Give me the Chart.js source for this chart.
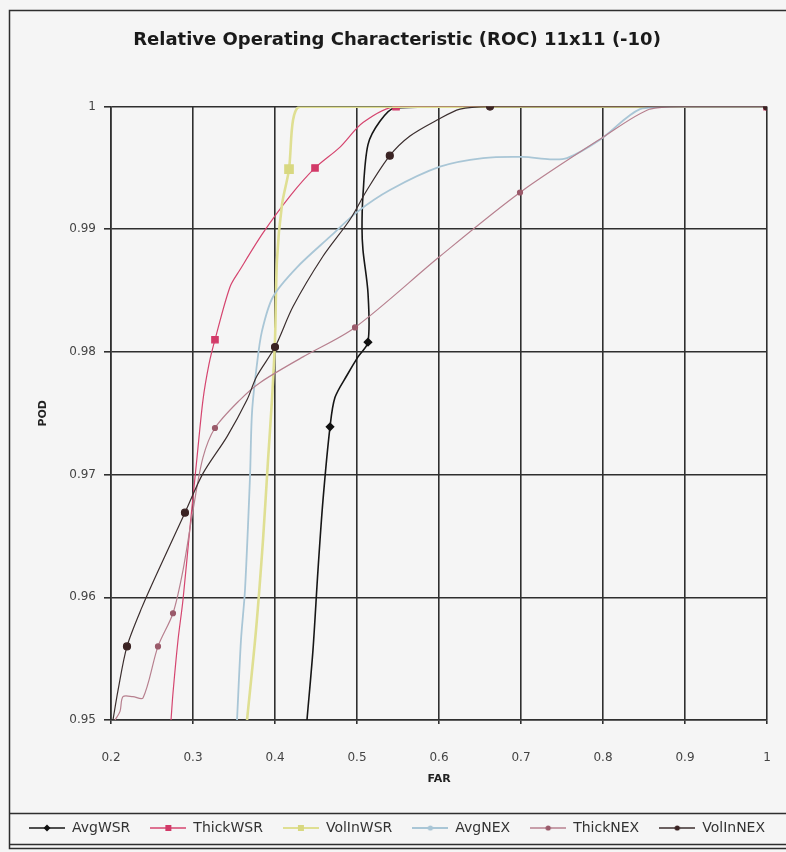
<!DOCTYPE html>
<html><head><meta charset="utf-8">
<script src="https://cdn.jsdelivr.net/npm/chart.js@4/dist/chart.umd.min.js"></script>
<style>html,body{margin:0;padding:0;background:#f5f5f5;}canvas{display:block;}</style>
</head><body>
<canvas id="c" width="786" height="852"></canvas>
<script>
// ---- data (FAR, POD) ----
const seriesNames = ['AvgWSR','ThickWSR','VolInWSR','AvgNEX','ThickNEX','VolInNEX'];
const xTickValues = [0.2,0.3,0.4,0.5,0.6,0.7,0.8,0.9,1];
const yTickValues = [0.95,0.96,0.97,0.98,0.99,1];

const avgWSR = [[0.4390,0.9500],[0.4463,0.9557],[0.4524,0.9622],[0.4585,0.9679],[0.4671,0.9739],[0.4732,0.9763],[0.4878,0.9781],[0.5012,0.9796],[0.5134,0.9808],[0.5134,0.9848],[0.5073,0.9883],[0.5061,0.9901],[0.5073,0.9928],[0.5134,0.9969],[0.5280,0.9988],[0.5463,0.9999],[0.6620,1.0],[1.0,1.0]];
const thickWSR = [[0.2732,0.9500],[0.2756,0.9522],[0.2817,0.9565],[0.2878,0.9598],[0.2963,0.9657],[0.3049,0.9714],[0.3122,0.9761],[0.3195,0.9790],[0.3268,0.9810],[0.3451,0.9853],[0.3573,0.9867],[0.3854,0.9897],[0.4183,0.9927],[0.4488,0.9950],[0.4793,0.9967],[0.5073,0.9987],[0.5476,1.0],[1.0,1.0]];
const volInWSR = [[0.3659,0.9500],[0.3768,0.9573],[0.3854,0.9647],[0.3915,0.9712],[0.3963,0.9761],[0.4000,0.9810],[0.4024,0.9875],[0.4085,0.9920],[0.4171,0.9949],[0.4220,0.9989],[0.4305,1.0],[1.0,1.0]];
const avgNEX = [[0.3537,0.9500],[0.3585,0.9565],[0.3634,0.9606],[0.3695,0.9698],[0.3720,0.9751],[0.3780,0.9790],[0.3841,0.9817],[0.3976,0.9845],[0.4268,0.9869],[0.4671,0.9894],[0.5000,0.9914],[0.5402,0.9932],[0.6012,0.9951],[0.6537,0.9958],[0.7024,0.9959],[0.7354,0.9957],[0.7561,0.9958],[0.7963,0.9973],[0.8451,0.9998],[0.8939,1.0],[1.0,1.0]];
const thickNEX = [[0.2049,0.9500],[0.2110,0.9507],[0.2146,0.9519],[0.2268,0.9519],[0.2390,0.9518],[0.2573,0.9560],[0.2756,0.9587],[0.2878,0.9622],[0.3000,0.9671],[0.3122,0.9714],[0.3268,0.9738],[0.3573,0.9761],[0.3817,0.9775],[0.4341,0.9796],[0.4976,0.9820],[0.6012,0.9878],[0.6988,0.9930],[0.8000,0.9975],[0.8573,0.9998],[0.9000,1.0],[1.0,1.0]];
const volInNEX = [[0.2024,0.9500],[0.2085,0.9524],[0.2195,0.9560],[0.2378,0.9592],[0.2598,0.9625],[0.2902,0.9669],[0.3122,0.9701],[0.3415,0.9731],[0.3659,0.9761],[0.3776,0.9780],[0.4000,0.9804],[0.4220,0.9837],[0.4585,0.9878],[0.4915,0.9908],[0.5122,0.9932],[0.5400,0.9960],[0.5646,0.9976],[0.5976,0.9989],[0.6256,0.9998],[0.6622,1.0],[1.0,1.0]];

const seriesData = [avgWSR, thickWSR, volInWSR, avgNEX, thickNEX, volInNEX];

// ---- styles ----
const styles = [
  {line:'#161616', width:1.6, point:'rectRot', r:3.5, pc:'#111111', marks:[4,8]},
  {line:'#d5456f', width:1.2, point:'rect', r:4.5, pc:'#d23a68', marks:[8,13,16,17]},
  {line:'#dfdf92', width:2.6, point:'rect', r:5, pc:'#d8d880', marks:[8]},
  {line:'#a9c6d6', width:1.8, point:'circle', r:0, pc:'#a9c6d6', marks:[]},
  {line:'#b7808f', width:1.2, point:'circle', r:2.5, pc:'#9a5a6a', marks:[5,6,10,14,16,20]},
  {line:'#3b2e2e', width:1.2, point:'circle', r:3.5, pc:'#3a2323', marks:[2,5,10,15,19,20]}
];

function legendImg(s) {
  const c = document.createElement('canvas');
  c.width = 36; c.height = 12;
  const g = c.getContext('2d');
  g.strokeStyle = s.line; g.lineWidth = Math.max(1.5, Math.min(s.width, 2.2));
  g.beginPath(); g.moveTo(0, 6); g.lineTo(36, 6); g.stroke();
  g.fillStyle = s.pc;
  if (s.point === 'rect') { g.fillRect(15, 3, 6, 6); }
  else if (s.point === 'rectRot') { g.beginPath(); g.moveTo(18,2.5); g.lineTo(21.5,6); g.lineTo(18,9.5); g.lineTo(14.5,6); g.closePath(); g.fill(); }
  else { g.beginPath(); g.arc(18, 6, 2.6, 0, Math.PI*2); g.fill(); }
  return c;
}

const datasets = seriesNames.map((name, i) => {
  const s = styles[i];
  return {
    label: name,
    data: seriesData[i].map(p => ({x: p[0], y: p[1]})),
    showLine: true,
    tension: 0.3,
    borderColor: s.line,
    borderWidth: s.width,
    backgroundColor: s.pc,
    pointBackgroundColor: s.pc,
    pointBorderColor: s.pc,
    pointStyle: s.point,
    pointRadius: ctx => s.marks.includes(ctx.dataIndex) ? s.r : 0,
    pointHoverRadius: 0,
    order: 6 - i
  };
});

const frame = {
  id: 'frame',
  beforeDraw(chart) {
    const ctx = chart.ctx;
    ctx.save();
    ctx.fillStyle = '#f5f5f5';
    ctx.fillRect(0, 0, chart.width, chart.height);
    ctx.restore();
  },
  afterDraw(chart) {
    const ctx = chart.ctx;
    ctx.save();
    ctx.strokeStyle = '#2e2e2e';
    ctx.lineWidth = 1.5;
    ctx.strokeRect(9.5, 10.5, 800, 838);
    ctx.beginPath();
    ctx.moveTo(9, 813.5); ctx.lineTo(786, 813.5);
    ctx.moveTo(9, 844.5); ctx.lineTo(786, 844.5);
    ctx.stroke();
    ctx.restore();
  }
};

const gridColor = '#2f2f2f';
new Chart(document.getElementById('c'), {
  type: 'scatter',
  data: { datasets },
  options: {
    responsive: false,
    devicePixelRatio: 1,
    animation: false,
    events: [],
    layout: { padding: { left: 8, right: 0, top: 0, bottom: 7 } },
    plugins: {
      title: {
        display: true,
        text: 'Relative Operating Characteristic (ROC) 11x11 (-10)',
        font: { family: 'DejaVu Sans', size: 18, weight: 'bold' },
        color: '#1a1a1a',
        padding: { top: 30, bottom: 55 }
      },
      legend: {
        position: 'bottom',
        labels: {
          usePointStyle: true,
          pointStyleWidth: 36,
          padding: 20,
          color: '#333',
          font: { family: 'DejaVu Sans', size: 14 },
          generateLabels(chart) {
            return chart.data.datasets.map((ds, i) => ({
              text: ds.label,
              pointStyle: legendImg(styles[i]),
              fillStyle: styles[i].line,
              strokeStyle: styles[i].line,
              lineWidth: 0,
              hidden: false,
              datasetIndex: i,
              fontColor: '#333'
            }));
          }
        }
      },
      tooltip: { enabled: false }
    },
    scales: {
      x: {
        type: 'linear',
        min: 0.2, max: 1,
        afterFit(scale) { scale.height = 81; scale.paddingLeft = 0; scale.paddingRight = 19; },
        afterBuildTicks(scale) { scale.ticks = xTickValues.map(v => ({value: v})); },
        ticks: {
          color: '#444',
          font: { family: 'DejaVu Sans', size: 12 },
          padding: 27,
          maxRotation: 0,
          callback: v => String(Number(v.toFixed(2)))
        },
        grid: { color: gridColor, lineWidth: 1.6, tickLength: 4 },
        border: { color: gridColor, width: 1.6 },
        title: {
          display: true, text: 'FAR',
          font: { family: 'DejaVu Sans', size: 11, weight: 'bold' },
          color: '#222',
          padding: { top: 0, bottom: 15 }
        }
      },
      y: {
        type: 'linear',
        min: 0.95, max: 1,
        afterFit(scale) { scale.width = 103; },
        afterBuildTicks(scale) { scale.ticks = yTickValues.map(v => ({value: v})); },
        ticks: {
          color: '#444',
          font: { family: 'DejaVu Sans', size: 12 },
          padding: 8,
          callback: v => String(Number(v.toFixed(2)))
        },
        grid: { color: gridColor, lineWidth: 1.6, tickLength: 7 },
        border: { color: gridColor, width: 1.6 },
        title: {
          display: true, text: 'POD',
          font: { family: 'DejaVu Sans', size: 11, weight: 'bold' },
          color: '#222',
          padding: { top: 29, bottom: 0 }
        }
      }
    }
  },
  plugins: [frame]
});
</script>
</body></html>
